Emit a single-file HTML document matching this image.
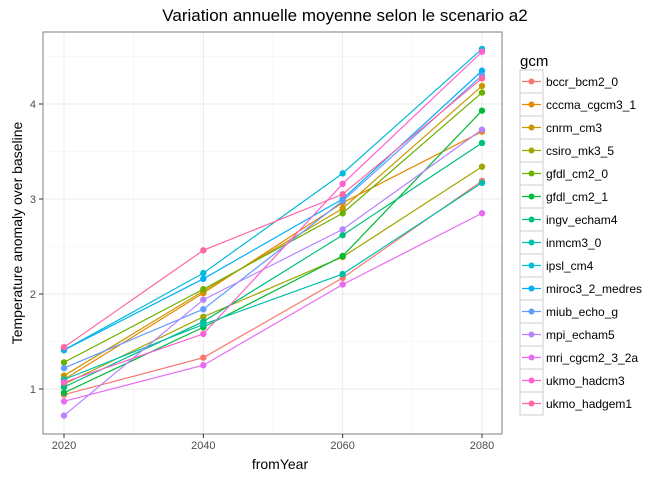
<!DOCTYPE html>
<html><head><meta charset="utf-8"><style>
body{margin:0;background:#fff;font-family:"Liberation Sans",sans-serif}
</style></head><body>
<svg id="chart" width="672" height="480" xmlns="http://www.w3.org/2000/svg" font-family="Liberation Sans, sans-serif">
<text x="345" y="21" text-anchor="middle" font-size="17" fill="#000">Variation annuelle moyenne selon le scenario a2</text>
<g id="grid"></g>
<g id="lines"></g>
<rect x="43" y="32" width="459" height="402" fill="none" stroke="#7f7f7f" stroke-width="1"/>
<g id="axes"></g>
<text x="280" y="469" text-anchor="middle" font-size="14">fromYear</text>
<text transform="translate(22,233) rotate(-90)" text-anchor="middle" font-size="14">Temperature anomaly over baseline</text>
<text x="520" y="66" font-size="15">gcm</text>
<g id="legend"></g>
</svg>
<script>
const years=[2020,2040,2060,2080];
const names=["bccr_bcm2_0","cccma_cgcm3_1","cnrm_cm3","csiro_mk3_5","gfdl_cm2_0","gfdl_cm2_1","ingv_echam4","inmcm3_0","ipsl_cm4","miroc3_2_medres","miub_echo_g","mpi_echam5","mri_cgcm2_3_2a","ukmo_hadcm3","ukmo_hadgem1"];
const colors=["#F8766D","#E58700","#C99800","#A3A500","#6BB100","#00BA38","#00BF7D","#00C0AF","#00BCD8","#00B0F6","#619CFF","#B983FF","#E76BF3","#FD61D1","#FF67A4"];
const s_bccr=[0.94,1.33,2.17,3.19];
const s_cccma=[1.10,2.01,2.96,3.71];
const s_cnrm=[1.14,2.03,2.90,4.19];
const s_csiro=[1.05,1.76,2.39,3.34];
const s_gfdl0=[1.28,2.05,2.85,4.12];
const s_gfdl1=[0.96,1.65,2.40,3.93];
const s_ingv=[1.02,1.71,2.62,3.59];
const s_inmcm=[1.10,1.68,2.21,3.17];
const s_ipsl=[1.41,2.22,3.27,4.58];
const s_miroc=[1.41,2.16,3.00,4.35];
const s_miub=[1.22,1.84,2.98,4.30];
const s_mpi=[0.72,1.94,2.68,3.73];
const s_mri=[0.87,1.25,2.10,2.85];
const s_hadcm3=[1.07,1.58,3.16,4.55];
const s_hadgem1=[1.44,2.46,3.05,4.27];
const series=[s_bccr,s_cccma,s_cnrm,s_csiro,s_gfdl0,s_gfdl1,s_ingv,s_inmcm,s_ipsl,s_miroc,s_miub,s_mpi,s_mri,s_hadcm3,s_hadgem1];
const yTicks=[1,2,3,4];
const xTicks=[2020,2040,2060,2080];
const NS="http://www.w3.org/2000/svg";
const X=v=>64+(v-2020)*(418/60);
const Y=v=>389-(v-1)*95;
function mk(tag,attrs,parent){const e=document.createElementNS(NS,tag);for(const k in attrs)e.setAttribute(k,attrs[k]);parent.appendChild(e);return e;}
const grid=document.getElementById('grid'),axes=document.getElementById('axes'),lines=document.getElementById('lines'),leg=document.getElementById('legend');
// minor grid
for(let i=0;i<yTicks.length+1;i++){const v=yTicks[0]-0.5+i;const yy=Y(v);if(yy<32||yy>434)continue;
 const l=mk('line',{x1:43,x2:502,y1:yy,y2:yy,stroke:'#f2f2f2','stroke-width':0.5},grid);
 
 }
for(let i=0;i<xTicks.length-1;i++){const xx=X((xTicks[i]+xTicks[i+1])/2);
 const l=mk('line',{x1:xx,x2:xx,y1:32,y2:434,stroke:'#f2f2f2','stroke-width':0.5},grid);
 
 }
yTicks.forEach(v=>{const yy=Y(v);
 const l=mk('line',{x1:43,x2:502,y1:yy,y2:yy,stroke:'#ebebeb','stroke-width':1},grid);
 
 
 const t=mk('line',{x1:39,x2:43,y1:yy,y2:yy,stroke:'#333'},axes);
 
 
 const tx=mk('text',{x:36,y:yy+4,'text-anchor':'end','font-size':11,fill:'#4d4d4d'},axes);tx.textContent=v;
 
 });
xTicks.forEach(v=>{const xx=X(v);
 const l=mk('line',{x1:xx,x2:xx,y1:32,y2:434,stroke:'#ebebeb','stroke-width':1},grid);
 
 
 const t=mk('line',{x1:xx,x2:xx,y1:434,y2:438,stroke:'#333'},axes);
 
 
 const tx=mk('text',{x:xx,y:449,'text-anchor':'middle','font-size':11,fill:'#4d4d4d'},axes);tx.textContent=v;
 
 });
series.forEach((s,i)=>{const g=mk('g',{},lines);
 
 
 const p=mk('polyline',{points:s.map((v,j)=>X(years[j])+','+Y(v)).join(' '),fill:'none',stroke:colors[i],'stroke-width':1.2},g);
 
 
 s.forEach((v,j)=>{const c=mk('circle',{cx:X(years[j]),cy:Y(v),r:3.2,fill:colors[i]},g);
  
  });
 const yy=70+i*23;
 const e=mk('g',{},leg);
 
 
 mk('rect',{x:520,y:yy,width:23,height:23,fill:'#fff',stroke:'#ccc','stroke-width':1},e);
 mk('line',{x1:522,x2:541,y1:yy+11.5,y2:yy+11.5,stroke:colors[i],'stroke-width':1.2},e);
 mk('circle',{cx:531.5,cy:yy+11.5,r:3,fill:colors[i]},e);
 const t=mk('text',{x:546,y:yy+16,'font-size':12,fill:'#000'},e);t.textContent=names[i];
 
 });
</script>
</body></html>
